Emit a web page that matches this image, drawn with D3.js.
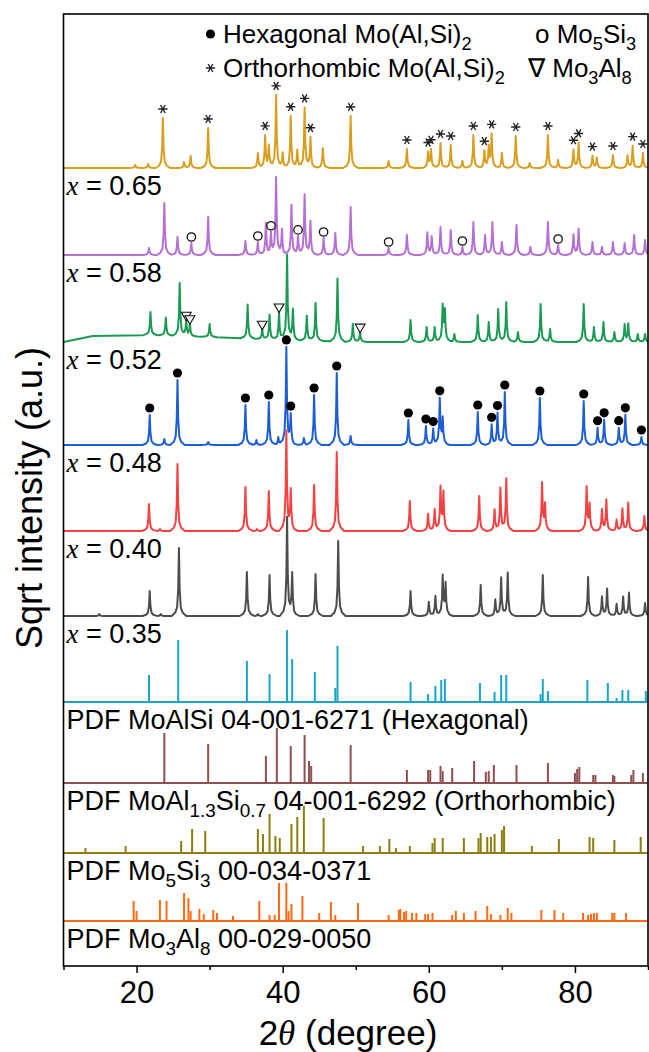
<!DOCTYPE html>
<html>
<head>
<meta charset="utf-8">
<script src="https://cdn.jsdelivr.net/npm/d3@7"></script>
<style>
  body { margin: 0; background: #fff; }
  svg { display: block; font-family: Arial, "Liberation Sans", sans-serif; }
</style>
</head>
<body>
<svg id="chart"></svg>
<script>
const WIDTH = 649;
const HEIGHT = 1052;
const LEFT = 63.5, RIGHT = 648, TOP = 14, BOTTOM = 966;

// ---- data: [2theta, sqrt intensity (a.u.)] ----
const x065 = [[19.8,3],[21.6,4],[23.6,50],[26.5,6],[27.4,12],[29.8,40],[36.6,15],[37.6,32],[38.1,22],[39.1,73],[40.0,15],
  [41.1,52],[42.0,18],[43.0,60],[43.8,30],[45.5,20],[49.3,52],[54.5,7],[57.0,19],[59.9,15],[60.3,18],[61.6,25],[63.0,23],
  [64.6,7],[66.1,33],[67.6,17],[68.2,20],[68.6,33],[70.0,15],[71.9,32],[73.8,5],[76.3,33],[77.7,8],[79.8,18],[80.5,25],
  [82.4,12],[83.0,10],[85.2,13],[87.2,12],[87.9,22],[89.3,15]];
const x058 = [[21.7,7],[23.8,52],[25.6,18],[27.5,12],[29.8,38],[34.9,14],[36.6,13],[37.7,32],[38.4,20],[39.1,77],[39.9,25],
  [41.2,50],[42.1,18],[43.0,60],[43.8,33],[45.6,17],[47.2,22],[49.3,48],[54.5,7],[57.0,20],[59.8,22],[60.4,18],[61.6,28],
  [63.0,25],[64.6,8],[66.1,33],[67.7,20],[68.7,33],[70.0,13],[72.0,30],[73.9,8],[76.3,33],[77.7,10],[79.8,20],[80.5,26],
  [82.4,13],[83.7,8],[85.2,13],[86.8,12],[88.1,20],[89.6,15]];
const x052 = [[21.9,23],[24.0,18],[25.9,53],[26.8,15],[27.3,12],[30.0,13],[35.2,34],[37.2,10],[38.2,25],[39.5,28],[40.6,85],
  [41.4,30],[43.3,25],[44.5,38],[47.5,63],[49.6,18],[50.6,10],[57.5,22],[59.7,15],[60.8,15],[61.9,35],[62.2,30],[63.5,8],
  [66.7,27],[68.2,20],[69.5,33],[70.6,40],[72.2,10],[75.3,38],[76.6,13],[81.2,38],[82.6,15],[83.9,20],[85.4,10],[86.8,17],
  [87.3,18],[88.6,8],[89.6,8]];
const x052Background = [[10,0],[14,6],[22,7],[30,5],[40,2],[50,0],[90,0]];
const x048 = [[21.8,30],[23.8,6],[25.6,65],[29.8,3],[34.9,40],[36.4,5],[38.1,43],[39.4,8],[40.5,97],[41.1,28],[42.9,7],
  [44.3,50],[47.4,72],[49.3,9],[57.2,25],[59.6,19],[60.6,16],[61.5,45],[61.9,25],[66.7,33],[68.6,20],[69.4,32],[70.4,53],
  [75.2,47],[81.2,44],[83.1,17],[84.0,25],[86.0,17],[86.9,30],[89.1,8]];
const x040 = [[21.7,27],[23.2,2],[25.6,67],[34.9,44],[36.5,2],[38.1,40],[40.5,99],[41.1,39],[44.3,46],[47.4,79],[57.4,30],
  [59.9,17],[60.8,21],[61.6,42],[62.0,37],[66.9,35],[69.0,21],[69.8,42],[70.6,52],[75.5,47],[75.9,25],[81.6,43],[82.0,25],
  [83.7,21],[84.3,31],[85.7,11],[86.5,22],[87.3,28],[89.5,15]];
const x035 = [[14.9,2],[21.8,25],[23.3,2],[25.8,68],[35.1,44],[36.6,2],[38.2,41],[40.6,98],[41.3,41],[44.5,42],[47.6,75],
  [57.5,25],[60.0,14],[60.9,20],[61.9,39],[62.3,31],[67.1,31],[69.1,16],[69.9,38],[70.8,43],[75.6,41],[81.8,39],[83.7,19],
  [84.4,27],[85.7,12],[86.6,19],[87.4,23],[89.6,13]];

const pdfHex = [[21.7,27],[25.7,62],[35.1,41],[38.2,28],[40.6,72],[41.3,43],[44.4,30],[47.2,14],[47.5,56],[57.5,20],
  [59.9,8],[60.9,16],[61.7,22],[62.2,23],[67.0,19],[69.0,10],[69.9,27],[70.6,27],[75.3,8],[75.6,23],[76.3,11],[81.7,22],
  [84.5,19],[85.7,4],[86.5,12],[87.3,12],[89.7,11]];
const pdfOrtho = [[23.8,50],[29.8,39],[37.7,27],[39.2,55],[41.1,37],[43.0,48],[43.6,22],[43.9,17],[49.3,38],[57.0,13],
  [59.9,13],[60.2,13],[61.6,17],[61.9,12],[63.2,15],[66.2,22],[67.8,11],[68.2,12],[68.9,18],[72.0,18],[76.3,20],[80.0,10],
  [80.3,14],[80.6,16],[82.5,8],[82.8,8],[85.2,8],[85.4,7],[87.7,8],[88.0,13],[89.3,10]];
const pdfMo5Si3 = [[13.0,5],[18.5,7],[26.1,12],[27.6,24],[29.4,22],[36.6,24],[37.3,19],[38.2,39],[39.0,17],[39.6,15],
  [41.2,29],[42.0,36],[42.9,47],[45.6,35],[51.0,7],[53.3,7],[54.6,14],[55.5,5],[57.4,7],[60.5,10],[60.8,15],[61.9,15],
  [64.8,15],[66.8,15],[67.1,20],[68.0,16],[68.5,16],[69.0,19],[70.0,23],[70.3,27],[74.1,7],[77.8,14],[82.0,16],[82.5,15],
  [85.4,13],[89.0,16]];
const pdfMo3Al8 = [[19.6,20],[20.0,10],[23.2,21],[24.1,20],[26.5,28],[27.1,23],[27.4,10],[28.6,12],[29.2,7],[30.5,11],
  [31.0,8],[33.2,5],[36.8,20],[38.2,6],[38.9,6],[39.5,38],[40.5,38],[40.8,10],[41.2,17],[42.7,25],[45.0,8],[46.6,19],
  [47.2,6],[50.3,18],[54.5,6],[55.9,11],[56.1,12],[56.6,9],[56.9,10],[57.7,8],[58.3,8],[59.5,7],[59.9,7],[60.5,8],[63.2,6],
  [63.7,10],[64.8,8],[66.4,10],[68.0,15],[68.5,7],[69.8,6],[70.8,13],[71.3,8],[75.4,11],[77.2,11],[78.4,8],[81.1,8],
  [81.8,6],[82.2,7],[82.6,8],[83.0,8],[85.1,8],[85.4,8],[87.0,8]];

// peak markers (2theta)
const orthoMarks = [23.6,29.8,37.6,39.1,41.1,43.0,43.8,49.3,57.0,59.9,60.3,61.6,63.0,66.1,67.6,68.6,71.9,76.3,79.8,80.5,82.4,85.2,87.9,89.3];
const mo5si3Marks = [27.5,36.6,38.4,42.1,45.6,54.5,64.6,77.7];
const mo3al8Marks = [26.8,27.3,37.2,39.5,50.6];
const hexMarks = [21.8,25.6,34.9,38.1,40.5,41.1,44.3,47.4,57.2,59.6,60.6,61.5,66.7,68.6,69.4,70.4,75.2,81.2,83.1,84.0,86.0,86.9,89.1];

// stacking offsets (a.u.)
const offsets = [798, 711, 624, 521, 435, 350, 264, 183, 113, 45];
const xTicks = [20, 40, 60, 80];
const xMinorTicks = [10, 30, 50, 70, 90];

// ---- scales ----
const x = d3.scaleLinear().domain([10, 90]).range([LEFT, RIGHT]);
const y = d3.scaleLinear().domain([0, BOTTOM - TOP]).range([BOTTOM, TOP]);

const svg = d3.select("#chart").attr("width", WIDTH).attr("height", HEIGHT);

// shape of one diffraction peak (offset in degree, fraction of height)
const PEAK_SHAPE = [[-1.0,0],[-0.5,0.05],[-0.25,0.13],[-0.1,0.4],[0,1],[0.1,0.4],[0.25,0.13],[0.5,0.05],[1.0,0]];

const lerp = (pts, t) => {
  if (t < pts[0][0] || t > pts[pts.length - 1][0]) return 0;
  for (let i = 1; i < pts.length; i++) {
    if (t <= pts[i][0]) {
      let [x0, y0] = pts[i - 1], [x1, y1] = pts[i];
      return y0 + (y1 - y0) * (t - x0) / (x1 - x0);
    }
  }
  return pts[0][1];
};

const profileAt = (peaks, bg, t) => {
  let v = bg ? lerp(bg, t) : 0;
  peaks.forEach(([p, h]) => { v += h * lerp(PEAK_SHAPE, t - p); });
  return v;
};

const profile = (peaks, bg) => {
  let xs = [10, 90];
  peaks.forEach(([p]) => PEAK_SHAPE.forEach(([d]) => xs.push(p + d)));
  if (bg) bg.forEach(([b]) => xs.push(b));
  xs = Array.from(new Set(xs.map((v) => +v.toFixed(3))))
    .filter((v) => v >= 10 && v <= 90)
    .sort((a, b) => a - b);
  return xs.map((t) => [t, profileAt(peaks, bg, t)]);
};

const traces = [
  { peaks: x065, color: "#D99E1F", label: ["x", " = 0.65"] },
  { peaks: x058, color: "#B570D4", label: ["x", " = 0.58"] },
  { peaks: x052, color: "#1A9A52", label: ["x", " = 0.52"], bg: x052Background },
  { peaks: x048, color: "#1E5ED5", label: ["x", " = 0.48"] },
  { peaks: x040, color: "#F44141", label: ["x", " = 0.40"] },
  { peaks: x035, color: "#4D4D4D", label: ["x", " = 0.35"] },
];
const sticks = [
  { peaks: pdfHex, color: "#19A5C8", label: [["PDF MoAlSi 04-001-6271 (Hexagonal)", 0]] },
  { peaks: pdfOrtho, color: "#8E5050", label: [["PDF MoAl", 0], ["1.3", 1], ["Si", 0], ["0.7", 1], [" 04-001-6292 (Orthorhombic)", 0]] },
  { peaks: pdfMo5Si3, color: "#8B7D0E", label: [["PDF Mo", 0], ["5", 1], ["Si", 0], ["3", 1], [" 00-034-0371", 0]] },
  { peaks: pdfMo3Al8, color: "#FF6A13", label: [["PDF Mo", 0], ["3", 1], ["Al", 0], ["8", 1], [" 00-029-0050", 0]] },
];

// rich text with subscripts
const rich = (sel, parts, size) => {
  let sub = false;
  parts.forEach(([s, isSub]) => {
    let t = sel.append("tspan").text(s);
    if (isSub && !sub) { t.attr("dy", size * 0.25).attr("font-size", size * 0.7); sub = true; }
    else if (isSub) { t.attr("font-size", size * 0.7); }
    else if (sub) { t.attr("dy", -size * 0.25); sub = false; }
  });
};

const line = d3.line().x((d) => x(d[0])).y((d) => y(d[1]));
const LABEL_SIZE = 27;

// measured patterns
traces.forEach((tr, i) => {
  let off = offsets[i];
  svg.append("path")
    .datum(profile(tr.peaks, tr.bg).map(([t, v]) => [t, v + off]))
    .attr("d", line)
    .attr("fill", "none")
    .attr("stroke", tr.color)
    .attr("stroke-width", 2)
    .attr("stroke-linejoin", "round");

  let txt = svg.append("text")
    .attr("x", LEFT + 3)
    .attr("y", y(off) + 27)
    .attr("font-size", LABEL_SIZE);
  txt.append("tspan").text(tr.label[0])
    .attr("font-family", "'Liberation Serif', 'Times New Roman', serif")
    .attr("font-style", "italic");
  txt.append("tspan").text(tr.label[1]);
});

// reference patterns (sticks)
sticks.forEach((st, i) => {
  let off = offsets[traces.length + i];
  let g = svg.append("g").attr("stroke", st.color).attr("stroke-width", 2);
  g.append("line")
    .attr("x1", x(10)).attr("x2", x(90))
    .attr("y1", y(off)).attr("y2", y(off));
  g.selectAll("line.stick")
    .data(st.peaks)
    .join("line")
    .attr("class", "stick")
    .attr("x1", (d) => x(d[0])).attr("x2", (d) => x(d[0]))
    .attr("y1", y(off)).attr("y2", (d) => y(off + d[1]));

  let txt = svg.append("text")
    .attr("x", LEFT + 3)
    .attr("y", y(off) + 27)
    .attr("font-size", LABEL_SIZE);
  rich(txt, st.label, LABEL_SIZE);
});

// phase markers
const markY = (i, t, gap) => y(offsets[i] + profileAt(traces[i].peaks, traces[i].bg, t)) - gap;

const asterisk = d3.symbol(d3.symbolAsterisk, 60);
svg.append("g").selectAll("path")
  .data(orthoMarks)
  .join("path")
  .attr("d", asterisk)
  .attr("transform", (t) => `translate(${x(t)},${markY(0, t, 9)}) rotate(90)`)
  .attr("fill", "none")
  .attr("stroke", "#222")
  .attr("stroke-width", 1.4);

svg.append("g").selectAll("circle")
  .data(mo5si3Marks)
  .join("circle")
  .attr("cx", (t) => x(t))
  .attr("cy", (t) => markY(1, t, 6))
  .attr("r", 4.2)
  .attr("fill", "#fff")
  .attr("stroke", "#111")
  .attr("stroke-width", 1.3);

const tri = d3.symbol(d3.symbolTriangle, 42);
svg.append("g").selectAll("path")
  .data(mo3al8Marks)
  .join("path")
  .attr("d", tri)
  .attr("transform", (t) => `translate(${x(t)},${markY(2, t, 5)}) rotate(180)`)
  .attr("fill", "#f4f4f4")
  .attr("stroke", "#111")
  .attr("stroke-width", 1.1);

svg.append("g").selectAll("circle")
  .data(hexMarks)
  .join("circle")
  .attr("cx", (t) => x(t))
  .attr("cy", (t) => markY(3, t, 7))
  .attr("r", 4.6)
  .attr("fill", "#000");

// legend
const LEG = 26;
svg.append("circle").attr("cx", 210.5).attr("cy", 34).attr("r", 4.6).attr("fill", "#000");
rich(svg.append("text").attr("x", 223).attr("y", 43).attr("font-size", LEG),
  [["Hexagonal Mo(Al,Si)", 0], ["2", 1]], LEG);
rich(svg.append("text").attr("x", 535).attr("y", 43).attr("font-size", LEG),
  [["o Mo", 0], ["5", 1], ["Si", 0], ["3", 1]], LEG);
svg.append("path").attr("d", asterisk)
  .attr("transform", "translate(210.5,68) rotate(90)")
  .attr("fill", "none").attr("stroke", "#222").attr("stroke-width", 1.4);
rich(svg.append("text").attr("x", 223).attr("y", 77).attr("font-size", LEG),
  [["Orthorhombic Mo(Al,Si)", 0], ["2", 1]], LEG);
rich(svg.append("text").attr("x", 528).attr("y", 77).attr("font-size", LEG),
  [["\u2207 Mo", 0], ["3", 1], ["Al", 0], ["8", 1]], LEG);

// axes
const axisG = svg.append("g").attr("transform", `translate(0,${BOTTOM})`);
axisG.call(d3.axisBottom(x).tickValues(xTicks).tickSize(7).tickPadding(8).tickSizeOuter(0));
axisG.append("g").call(d3.axisBottom(x).tickValues(xMinorTicks).tickSize(4).tickFormat(""));
axisG.selectAll(".domain").remove();
axisG.selectAll("line").attr("stroke", "#000").attr("stroke-width", 1.5);
axisG.selectAll("text").attr("font-size", 31).attr("font-family", "Arial, 'Liberation Sans', sans-serif").attr("fill", "#000");

// frame
svg.append("rect")
  .attr("x", LEFT).attr("y", TOP)
  .attr("width", RIGHT - LEFT).attr("height", BOTTOM - TOP)
  .attr("fill", "none").attr("stroke", "#000").attr("stroke-width", 1.6);

// axis titles
let xt = svg.append("text")
  .attr("x", 348).attr("y", 1045)
  .attr("text-anchor", "middle").attr("font-size", 35);
xt.append("tspan").text("2");
xt.append("tspan").text("\u03B8").attr("font-family", "'Liberation Serif', 'Times New Roman', serif").attr("font-style", "italic");
xt.append("tspan").text(" (degree)");

svg.append("text")
  .attr("transform", `translate(42,${(TOP + BOTTOM) / 2 + 8}) rotate(-90)`)
  .attr("text-anchor", "middle")
  .attr("font-size", 36)
  .text("Sqrt intensity (a.u.)");
</script>
</body>
</html>
